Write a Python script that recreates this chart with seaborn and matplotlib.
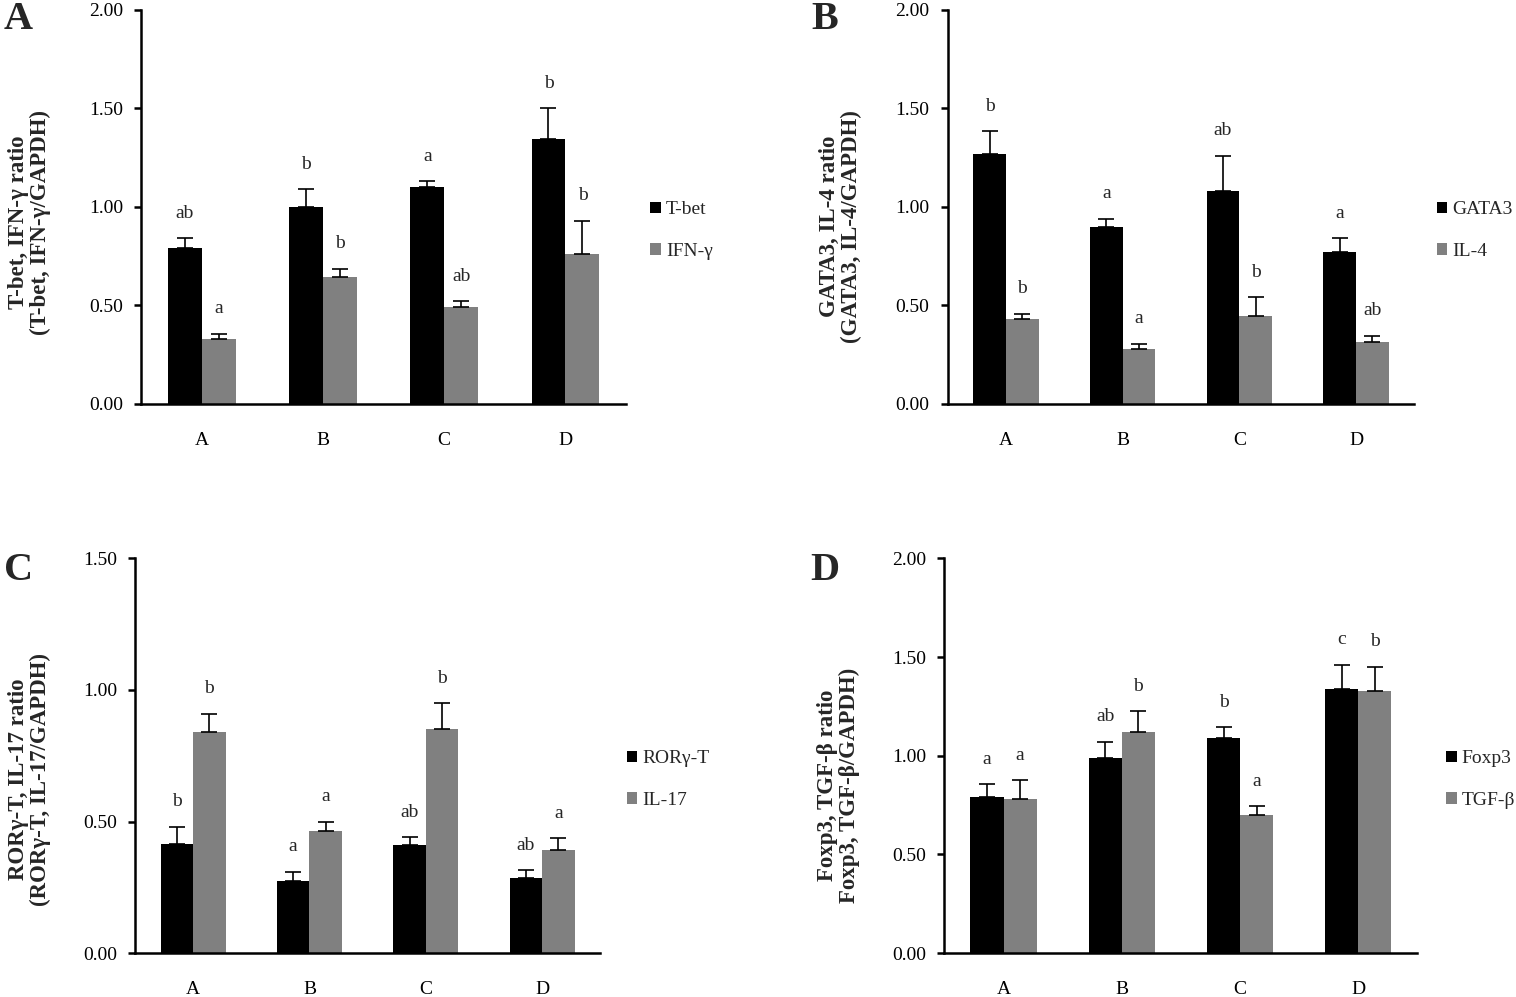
import numpy as np
import pandas as pd
import matplotlib
matplotlib.use("Agg")
import matplotlib.pyplot as plt
import seaborn as sns

# groups on the x axis
groups = ["A", "B", "C", "D"]

# panel A
tbet = [0.79, 1.00, 1.10, 1.345]
tbet_err = [0.05, 0.09, 0.03, 0.155]
ifng = [0.33, 0.645, 0.49, 0.76]
ifng_err = [0.025, 0.04, 0.03, 0.17]
tbet_sig = ["ab", "b", "a", "b"]
ifng_sig = ["a", "b", "ab", "b"]

# panel B
gata3 = [1.27, 0.90, 1.08, 0.77]
gata3_err = [0.115, 0.04, 0.18, 0.07]
il4 = [0.43, 0.28, 0.447, 0.315]
il4_err = [0.027, 0.025, 0.093, 0.03]
gata3_sig = ["b", "a", "ab", "a"]
il4_sig = ["b", "a", "b", "ab"]

# panel C
rorgt = [0.414, 0.273, 0.41, 0.285]
rorgt_err = [0.066, 0.037, 0.03, 0.03]
il17 = [0.84, 0.463, 0.85, 0.39]
il17_err = [0.07, 0.037, 0.10, 0.047]
rorgt_sig = ["b", "a", "ab", "ab"]
il17_sig = ["b", "a", "b", "a"]

# panel D
foxp3 = [0.79, 0.99, 1.09, 1.34]
foxp3_err = [0.065, 0.08, 0.055, 0.12]
tgfb = [0.78, 1.12, 0.70, 1.33]
tgfb_err = [0.095, 0.105, 0.045, 0.12]
foxp3_sig = ["a", "ab", "b", "c"]
tgfb_sig = ["a", "b", "a", "b"]

sns.set_theme(style="ticks")
plt.rcParams["font.family"] = ["Liberation Serif", "DejaVu Serif"]
plt.rcParams["axes.linewidth"] = 1.8

colors = ["#000000", "#808080"]

panels = [
    dict(letter="A", names=["T-bet", "IFN-γ"], vals=[tbet, ifng], errs=[tbet_err, ifng_err],
         sigs=[tbet_sig, ifng_sig], ymax=2.0,
         ylabel="T-bet, IFN-γ ratio\n(T-bet, IFN-γ/GAPDH)",
         rect=[0.093, 0.595, 0.320, 0.395], lab=(-0.186, 0.46), leg=(1.014, 0.44),
         tpos=(0.012, 0.980)),
    dict(letter="B", names=["GATA3", "IL-4"], vals=[gata3, il4], errs=[gata3_err, il4_err],
         sigs=[gata3_sig, il4_sig], ymax=2.0,
         ylabel="GATA3, IL-4 ratio\n(GATA3, IL-4/GAPDH)",
         rect=[0.625, 0.595, 0.308, 0.395], lab=(-0.184, 0.45), leg=(1.010, 0.44),
         tpos=(0.544, 0.980)),
    dict(letter="C", names=["RORγ-T", "IL-17"], vals=[rorgt, il17], errs=[rorgt_err, il17_err],
         sigs=[rorgt_sig, il17_sig], ymax=1.5,
         ylabel="RORγ-T, IL-17 ratio\n(RORγ-T, IL-17/GAPDH)",
         rect=[0.089, 0.044, 0.307, 0.396], lab=(-0.18, 0.44), leg=(1.019, 0.44),
         tpos=(0.012, 0.428)),
    dict(letter="D", names=["Foxp3", "TGF-β"], vals=[foxp3, tgfb], errs=[foxp3_err, tgfb_err],
         sigs=[foxp3_sig, tgfb_sig], ymax=2.0,
         ylabel="Foxp3, TGF-β ratio\nFoxp3, TGF-β/GAPDH)",
         rect=[0.623, 0.044, 0.312, 0.396], lab=(-0.178, 0.425), leg=(1.023, 0.44),
         tpos=(0.544, 0.428)),
]

fig = plt.figure(figsize=(15.16, 9.97), dpi=100)

for p in panels:
    ax = fig.add_axes(p["rect"])
    df = pd.DataFrame({
        "group": groups * 2,
        "gene": [p["names"][0]] * 4 + [p["names"][1]] * 4,
        "value": list(p["vals"][0]) + list(p["vals"][1]),
    })
    sns.barplot(data=df, x="group", y="value", hue="gene", palette=colors,
                width=0.56, errorbar=None, saturation=1, linewidth=0, ax=ax)

    # upward-only error bars and significance letters, placed on the drawn bars
    for cont, err, sig in zip(ax.containers, p["errs"], p["sigs"]):
        for bar, e, s in zip(cont, err, sig):
            xc = bar.get_x() + bar.get_width() / 2
            h = bar.get_height()
            ax.errorbar(xc, h, yerr=[[0], [e]], fmt="none", ecolor="black",
                        elinewidth=1.2, capsize=6, capthick=1.2)
            ax.annotate(s, (xc, h + e), xytext=(0, 18), textcoords="offset points",
                        ha="center", va="center", fontsize=14)

    ax.set_ylim(0, p["ymax"])
    ax.set_xlim(-0.5, 3.5)
    ticks = np.arange(0, p["ymax"] + 0.01, 0.5)
    ax.set_yticks(ticks)
    ax.set_yticklabels([f"{t:.2f}" for t in ticks])
    ax.tick_params(axis="y", length=5, width=1.8, pad=8, labelsize=14, colors="black")
    ax.tick_params(axis="x", length=0, pad=20, labelsize=14, colors="black")
    ax.set_xlabel("")
    ax.set_ylabel(p["ylabel"], fontsize=16.5, fontweight="bold", linespacing=1.05)
    ax.yaxis.set_label_coords(*p["lab"])
    sns.despine(ax=ax)
    for sp in ["left", "bottom"]:
        ax.spines[sp].set_color("black")

    sns.move_legend(ax, "center left", bbox_to_anchor=p["leg"], frameon=False, title=None,
                    fontsize=14, handlelength=0.55, handleheight=0.55,
                    labelspacing=1.25, handletextpad=0.25)

    fig.text(p["tpos"][0], p["tpos"][1], p["letter"], fontsize=29, fontweight="bold",
             ha="center", va="center")

fig.savefig("out.png", dpi=100)
